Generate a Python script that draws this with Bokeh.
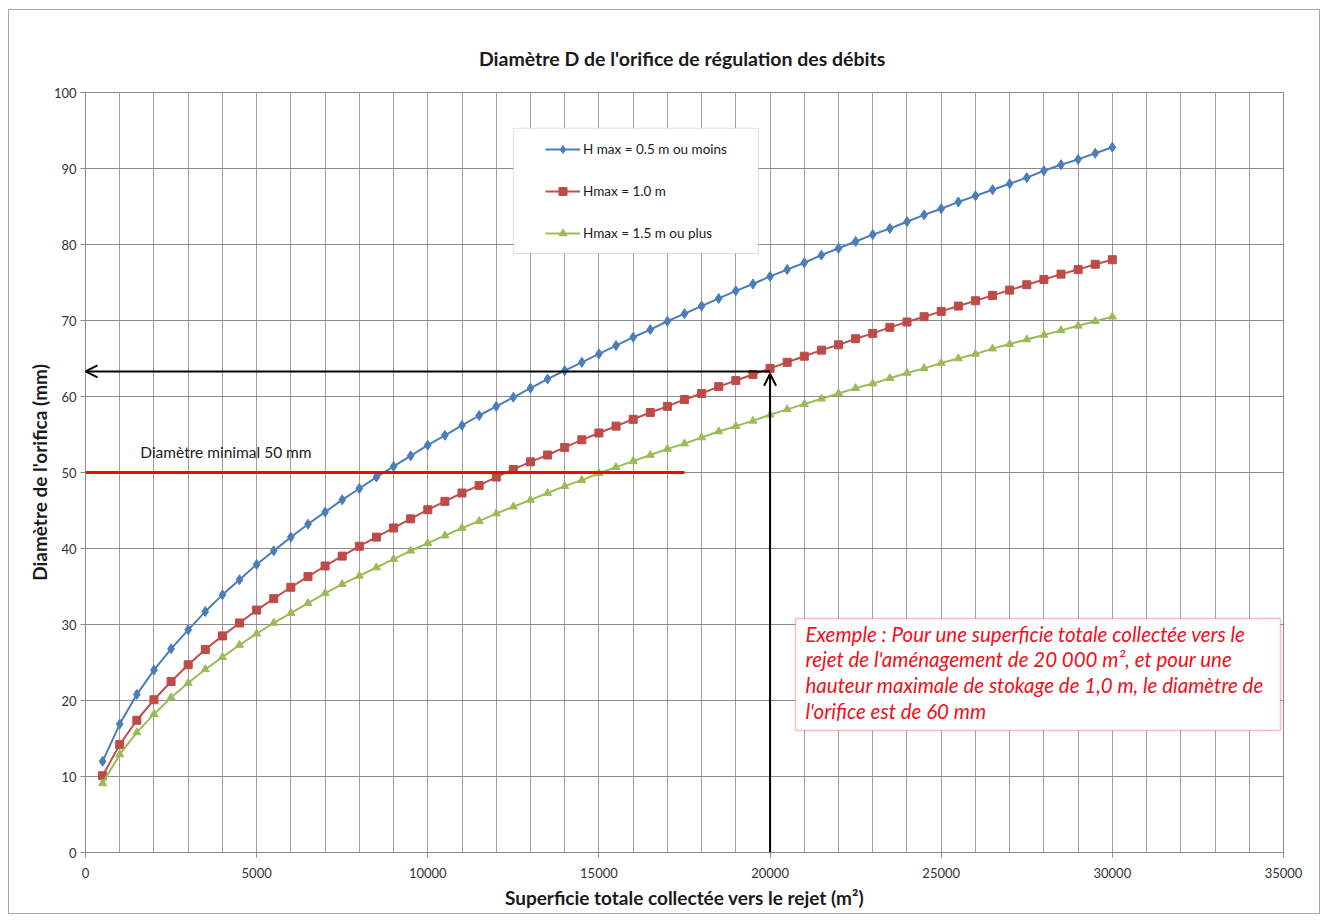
from bokeh.plotting import figure
from bokeh.models import (Range1d, SingleIntervalTicker, Legend, LegendItem, Arrow,
                          OpenHead, Label, BoxAnnotation)
from bokeh.embed import file_html
from bokeh.resources import INLINE

# ---------------- data ----------------
area = [500, 1000, 1500, 2000, 2500, 3000, 3500, 4000, 4500, 5000,
        5500, 6000, 6500, 7000, 7500, 8000, 8500, 9000, 9500, 10000,
        10500, 11000, 11500, 12000, 12500, 13000, 13500, 14000, 14500, 15000,
        15500, 16000, 16500, 17000, 17500, 18000, 18500, 19000, 19500, 20000,
        20500, 21000, 21500, 22000, 22500, 23000, 23500, 24000, 24500, 25000,
        25500, 26000, 26500, 27000, 27500, 28000, 28500, 29000, 29500, 30000]

d_h05 = [12.0, 16.9, 20.8, 24.0, 26.8, 29.3, 31.7, 33.9, 35.9, 37.9,
         39.7, 41.5, 43.2, 44.8, 46.4, 47.9, 49.4, 50.8, 52.2, 53.6,
         54.9, 56.2, 57.5, 58.7, 59.9, 61.1, 62.3, 63.4, 64.5, 65.6,
         66.7, 67.8, 68.8, 69.9, 70.9, 71.9, 72.9, 73.9, 74.8, 75.8,
         76.7, 77.6, 78.6, 79.5, 80.4, 81.3, 82.1, 83.0, 83.9, 84.7,
         85.6, 86.4, 87.2, 88.0, 88.8, 89.7, 90.5, 91.2, 92.0, 92.8]

d_h10 = [10.1, 14.2, 17.4, 20.1, 22.5, 24.7, 26.7, 28.5, 30.2, 31.9,
         33.4, 34.9, 36.3, 37.7, 39.0, 40.3, 41.5, 42.7, 43.9, 45.1,
         46.2, 47.3, 48.3, 49.4, 50.4, 51.4, 52.3, 53.3, 54.3, 55.2,
         56.1, 57.0, 57.9, 58.7, 59.6, 60.4, 61.3, 62.1, 62.9, 63.7,
         64.5, 65.3, 66.1, 66.8, 67.6, 68.3, 69.1, 69.8, 70.5, 71.2,
         71.9, 72.6, 73.3, 74.0, 74.7, 75.4, 76.1, 76.7, 77.4, 78.0]

d_h15 = [9.1, 12.9, 15.8, 18.2, 20.4, 22.3, 24.1, 25.7, 27.3, 28.8,
         30.2, 31.5, 32.8, 34.1, 35.3, 36.4, 37.5, 38.6, 39.7, 40.7,
         41.7, 42.7, 43.6, 44.6, 45.5, 46.4, 47.3, 48.2, 49.0, 49.9,
         50.7, 51.5, 52.3, 53.1, 53.8, 54.6, 55.4, 56.1, 56.8, 57.6,
         58.3, 59.0, 59.7, 60.4, 61.1, 61.7, 62.4, 63.1, 63.7, 64.4,
         65.0, 65.6, 66.3, 66.9, 67.5, 68.1, 68.7, 69.3, 69.9, 70.5]

series_labels = ["H max = 0.5 m ou moins", "Hmax = 1.0 m", "Hmax = 1.5 m ou plus"]

min_diameter = 50          # red reference line
min_line_end = 17500       # where the red line stops
example_area = 20000       # example (arrows)
example_diameter = 63.3

example_lines = ["Exemple : Pour une superficie totale collectée vers le",
                 "rejet de l'aménagement de 20 000 m²,  et pour une",
                 "hauteur maximale de stokage de 1,0 m,  le diamètre de",
                 "l'orifice est de 60 mm"]

# ---------------- figure ----------------
FONT = "Lato"
p = figure(width=1312, height=905,
           x_range=Range1d(0, 35000), y_range=Range1d(0, 100),
           output_backend="svg", toolbar_location=None,
           min_border_left=76, min_border_right=38,
           min_border_top=82, min_border_bottom=63,
           title="Diamètre  D de l'orifice de régulation des débits")
p.styles = {"border": "1px solid #a6a6a6", "margin-left": "8px", "margin-top": "9px"}

p.title.align = "center"
p.title.text_font = FONT
p.title.text_font_size = "19.5px"
p.title.text_font_style = "bold"
p.title.text_color = "#1a1a1a"
p.title.standoff = 45

p.outline_line_color = "#8a8a8a"
p.background_fill_color = "white"

p.xaxis.ticker = SingleIntervalTicker(interval=5000)
p.yaxis.ticker = SingleIntervalTicker(interval=10)
p.xgrid.ticker = SingleIntervalTicker(interval=1000)
p.xgrid.grid_line_color = "#9e9e9e"
p.ygrid.grid_line_color = "#8a8a8a"

for ax in (p.xaxis[0], p.yaxis[0]):
    ax.axis_line_color = "#8a8a8a"
    ax.major_tick_line_color = "#8a8a8a"
    ax.major_tick_in = 0
    ax.major_tick_out = 5
    ax.minor_tick_line_color = None
    ax.major_label_text_font = FONT
    ax.major_label_text_font_size = "13px"
    ax.major_label_text_color = "#333333"
    ax.axis_label_text_font = FONT
    ax.axis_label_text_font_size = "19px"
    ax.axis_label_text_font_style = "bold"
    ax.axis_label_text_color = "#1a1a1a"

p.xaxis.axis_label = "Superficie totale collectée vers le rejet (m²)"
p.yaxis.axis_label = "Diamètre de l'orifica (mm)"
p.xaxis.major_label_standoff = 10
p.xaxis.axis_label_standoff = 5
p.yaxis.major_label_standoff = 4
p.yaxis.axis_label_standoff = 0

# ---------------- curves ----------------
blue, red, green = "#4a7ebb", "#c0504d", "#9bbb59"
l1 = p.line(area, d_h05, line_color=blue, line_width=2)
s1 = p.scatter(area, d_h05, marker="diamond", size=10, fill_color=blue, line_color=blue)
l2 = p.line(area, d_h10, line_color=red, line_width=2)
s2 = p.scatter(area, d_h10, marker="square", size=8, fill_color="#be4b48", line_color="#be4b48")
l3 = p.line(area, d_h15, line_color=green, line_width=2)
s3 = p.scatter(area, d_h15, marker="triangle", size=8, fill_color=green, line_color=green)

# minimum diameter line
p.line([0, min_line_end], [min_diameter, min_diameter], line_color="#ff0000", line_width=3)
p.add_layout(Label(x=1600, y=min_diameter + 2.7, text="Diamètre minimal  50 mm",
                   text_font=FONT, text_font_size="15.5px", text_color="#1a1a1a",
                   text_baseline="middle"))

# example arrows
p.add_layout(Arrow(end=OpenHead(size=12, line_color="black", line_width=2),
                   x_start=example_area, y_start=example_diameter,
                   x_end=0, y_end=example_diameter,
                   line_color="black", line_width=2))
p.add_layout(Arrow(end=OpenHead(size=12, line_color="black", line_width=2),
                   x_start=example_area, y_start=0,
                   x_end=example_area, y_end=example_diameter - 0.3,
                   line_color="black", line_width=2))

# example box
p.add_layout(BoxAnnotation(left=20743, right=34912, bottom=16.05, top=30.8,
                           fill_color="white", fill_alpha=1.0,
                           line_color="#ff2020", line_width=1.5))
for i, txt in enumerate(example_lines):
    p.add_layout(Label(x=21035, y=28.8 - i * 3.4, text=txt,
                       text_font=FONT, text_font_size="20.5px",
                       text_font_style="italic", text_color="#f01020",
                       text_baseline="middle"))

# legend
p.add_layout(BoxAnnotation(left=12500, right=19660, bottom=78.8, top=95.3,
                           fill_color="white", fill_alpha=1.0,
                           line_color="#7a96c8", line_width=1))
legend = Legend(items=[LegendItem(label=series_labels[0], renderers=[l1, s1]),
                       LegendItem(label=series_labels[1], renderers=[l2, s2]),
                       LegendItem(label=series_labels[2], renderers=[l3, s3])],
                location=(449, 598),
                background_fill_alpha=0, border_line_alpha=0,
                padding=11, spacing=22, label_height=20, glyph_height=20,
                glyph_width=35, label_standoff=3,
                label_text_font=FONT, label_text_font_size="13.5px",
                label_text_color="#1a1a1a")
p.add_layout(legend)

open("out.html", "w").write(file_html(p, INLINE))
